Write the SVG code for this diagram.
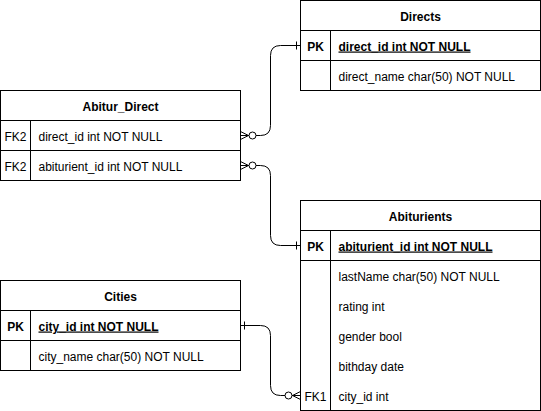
<svg xmlns="http://www.w3.org/2000/svg" width="541" height="411" viewBox="0 0 541 411">
<style>
.box{fill:#fff;stroke:#000;stroke-width:1}
.ln{stroke:#000;stroke-width:1;fill:none}
text{font-family:"Liberation Sans",Arial,sans-serif;font-size:12px;fill:#000}
.h{font-weight:bold;text-anchor:middle}
.k{font-weight:bold}
.u{font-weight:bold;text-decoration:underline}
.c{text-anchor:middle}
.circ{fill:#fff;stroke:#000;stroke-width:1}
</style>
<rect width="541" height="411" fill="#fff"/>
<g id="connectors">
  <path class="ln" d="M240.5,135.5 H260.5 Q270.5,135.5 270.5,125.5 V55.5 Q270.5,45.5 280.5,45.5 H300.5"/>
  <path class="ln" d="M240.5,131.5 L248.5,135.5 L240.5,139.5"/>
  <circle class="circ" cx="252.5" cy="135.5" r="3.5"/>
  <path class="ln" d="M296.5,41.5 V49.5"/>

  <path class="ln" d="M240.5,165.5 H260.5 Q270.5,165.5 270.5,175.5 V235.5 Q270.5,245.5 280.5,245.5 H300.5"/>
  <path class="ln" d="M240.5,161.5 L248.5,165.5 L240.5,169.5"/>
  <circle class="circ" cx="252.5" cy="165.5" r="3.5"/>
  <path class="ln" d="M296.5,241.5 V249.5"/>

  <path class="ln" d="M240.5,325.5 H260.5 Q270.5,325.5 270.5,335.5 V385.5 Q270.5,395.5 280.5,395.5 H300.5"/>
  <path class="ln" d="M244.5,321.5 V329.5"/>
  <path class="ln" d="M300.5,391.5 L292.5,395.5 L300.5,399.5"/>
  <circle class="circ" cx="288.5" cy="395.5" r="3.5"/>
</g>
<g id="Directs">
  <rect class="box" x="300.5" y="0.5" width="240" height="90"/>
  <path class="ln" d="M300.5,30.5 H540.5 M300.5,60.5 H540.5 M330.5,30.5 V90.5"/>
  <text class="h" x="420.5" y="20.5">Directs</text>
  <text class="k c" x="315.5" y="50.5">PK</text>
  <text class="u" x="338.5" y="50.5">direct_id int NOT NULL</text>
  <text x="338.5" y="80.5">direct_name char(50) NOT NULL</text>
</g>
<g id="Abitur_Direct">
  <rect class="box" x="0.5" y="90.5" width="240" height="90"/>
  <path class="ln" d="M0.5,120.5 H240.5 M0.5,150.5 H240.5 M30.5,120.5 V180.5"/>
  <text class="h" x="120.5" y="110.5">Abitur_Direct</text>
  <text class="c" x="15.5" y="140.5">FK2</text>
  <text x="38.5" y="140.5">direct_id int NOT NULL</text>
  <text class="c" x="15.5" y="170.5">FK2</text>
  <text x="38.5" y="170.5">abiturient_id int NOT NULL</text>
</g>
<g id="Abiturients">
  <rect class="box" x="300.5" y="200.5" width="240" height="210"/>
  <path class="ln" d="M300.5,230.5 H540.5 M300.5,260.5 H540.5 M330.5,230.5 V410.5"/>
  <text class="h" x="420.5" y="220.5">Abiturients</text>
  <text class="k c" x="315.5" y="250.5">PK</text>
  <text class="u" x="338.5" y="250.5">abiturient_id int NOT NULL</text>
  <text x="338.5" y="280.5">lastName char(50) NOT NULL</text>
  <text x="338.5" y="310.5">rating int</text>
  <text x="338.5" y="340.5">gender bool</text>
  <text x="338.5" y="370.5">bithday date</text>
  <text class="c" x="315.5" y="400.5">FK1</text>
  <text x="338.5" y="400.5">city_id int</text>
</g>
<g id="Cities">
  <rect class="box" x="0.5" y="280.5" width="240" height="90"/>
  <path class="ln" d="M0.5,310.5 H240.5 M0.5,340.5 H240.5 M30.5,310.5 V370.5"/>
  <text class="h" x="120.5" y="300.5">Cities</text>
  <text class="k c" x="15.5" y="330.5">PK</text>
  <text class="u" x="38.5" y="330.5">city_id int NOT NULL</text>
  <text x="38.5" y="360.5">city_name char(50) NOT NULL</text>
</g>
</svg>
